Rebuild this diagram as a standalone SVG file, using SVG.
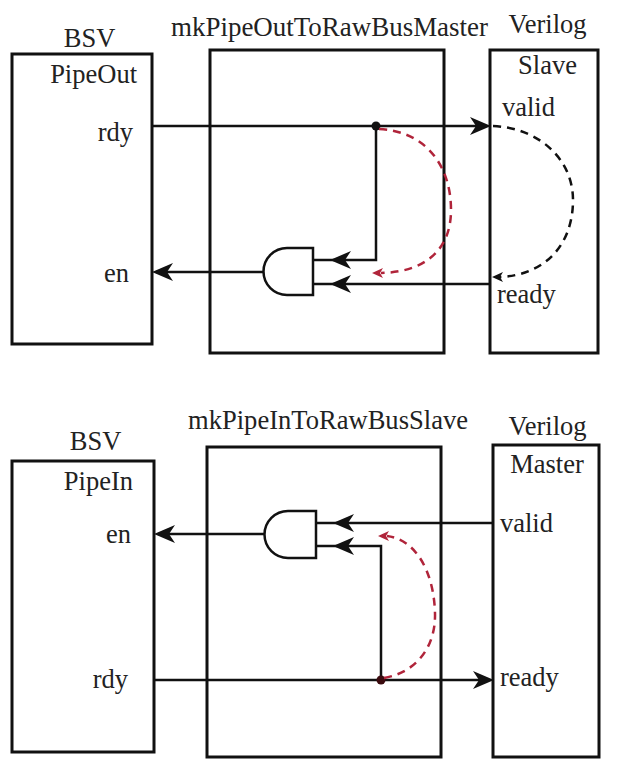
<svg xmlns="http://www.w3.org/2000/svg" xmlns:xlink="http://www.w3.org/1999/xlink" width="622" height="773" viewBox="0 0 622 773">
<style>
  .box { fill: #fff; stroke: #111; stroke-width: 3; }
  .wire { fill: none; stroke: #111; stroke-width: 2.5; }
  .gate { fill: #fff; stroke: #111; stroke-width: 2.5; }
  .red { fill: none; stroke: #b0243a; stroke-width: 2.5; stroke-dasharray: 8 6; }
  .blk { fill: none; stroke: #111; stroke-width: 2.5; stroke-dasharray: 8 6; }
  text { font-family: "Liberation Serif", "Times New Roman", serif; font-size: 26.5px; fill: #222; }
  .mid { text-anchor: middle; }
  .end { text-anchor: end; }
</style>
<defs>
  <path id="ah" d="M0,0 L-21,-9 L-15,0 L-21,9 Z" fill="#111"/>
  <path id="ahs" d="M0,0 L-11,-5 L-8,0 L-11,5 Z"/>
</defs>

<g id="top-bsv">
  <rect class="box" x="12" y="54" width="140" height="290"/>
  <text class="mid" x="89.5" y="47">BSV</text>
  <text class="end" x="137" y="83">PipeOut</text>
  <text class="end" x="133" y="141">rdy</text>
  <text class="end" x="129" y="282">en</text>
</g>
<g id="top-master">
  <rect class="box" x="210" y="50" width="234" height="303"/>
  <text x="171" y="36" textLength="317" lengthAdjust="spacingAndGlyphs">mkPipeOutToRawBusMaster</text>
</g>
<g id="top-slave">
  <rect class="box" x="490" y="50" width="108" height="303"/>
  <text class="mid" x="547.5" y="33">Verilog</text>
  <text class="mid" x="547.5" y="74">Slave</text>
  <text x="502" y="116">valid</text>
  <text x="497" y="303">ready</text>
</g>
<g id="top-and">
  <path class="gate" d="M313,248 L287,248 A23.5,23.5 0 0 0 287,295 L313,295 Z"/>
</g>

<g id="bot-bsv">
  <rect class="box" x="12" y="461" width="142" height="291"/>
  <text class="mid" x="95.5" y="450">BSV</text>
  <text class="end" x="133" y="490">PipeIn</text>
  <text class="end" x="131" y="543">en</text>
  <text class="end" x="128" y="688">rdy</text>
</g>
<g id="bot-slave">
  <rect class="box" x="207" y="447" width="234" height="310"/>
  <text x="188" y="429" textLength="280" lengthAdjust="spacingAndGlyphs">mkPipeInToRawBusSlave</text>
</g>
<g id="bot-master">
  <rect class="box" x="493" y="445" width="106" height="312"/>
  <text class="mid" x="547.5" y="435">Verilog</text>
  <text class="mid" x="547" y="473">Master</text>
  <text x="500" y="532">valid</text>
  <text x="500" y="686">ready</text>
</g>
<g id="bot-and">
  <path class="gate" d="M316,511 L288,511 A23.5,23.5 0 0 0 288,558 L316,558 Z"/>
</g>

<g id="connectors">
  <!-- top -->
  <path class="wire" d="M152,126 L486,126"/>
  <use xlink:href="#ah" transform="translate(491,126)"/>
  <path class="wire" d="M376,126 L376,260 L313,260"/>
  <use xlink:href="#ah" transform="translate(330,260) rotate(180)"/>
  <path class="wire" d="M490,284 L313,284"/>
  <use xlink:href="#ah" transform="translate(330,284) rotate(180)"/>
  <path class="wire" d="M264,272 L156,272"/>
  <use xlink:href="#ah" transform="translate(152,272) rotate(180)"/>
  <circle cx="376" cy="126" r="4.5" fill="#111"/>
  <path class="red" d="M379,129 C425,131 451,165 451,210 C451,250 425,272 381,273"/>
  <use xlink:href="#ahs" fill="#b0243a" transform="translate(372,273) rotate(180)"/>
  <path class="blk" d="M493,126 C540,128 573,160 573,200 C573,245 545,275 500,277"/>
  <use xlink:href="#ahs" fill="#111" transform="translate(492,277) rotate(180)"/>

  <!-- bottom -->
  <path class="wire" d="M154,680 L489,680"/>
  <use xlink:href="#ah" transform="translate(494,680)"/>
  <path class="wire" d="M381,680 L381,546 L316,546"/>
  <use xlink:href="#ah" transform="translate(333,546) rotate(180)"/>
  <path class="wire" d="M493,523 L316,523"/>
  <use xlink:href="#ah" transform="translate(333,523) rotate(180)"/>
  <path class="wire" d="M265,534 L158,534"/>
  <use xlink:href="#ah" transform="translate(154,534) rotate(180)"/>
  <circle cx="381" cy="680" r="4.5" fill="#3a0a0e"/>
  <path class="red" d="M384,678 C418,672 436,645 435,613 C434,575 418,540 387,536"/>
  <use xlink:href="#ahs" fill="#b0243a" transform="translate(378,536) rotate(180)"/>
</g>
</svg>
